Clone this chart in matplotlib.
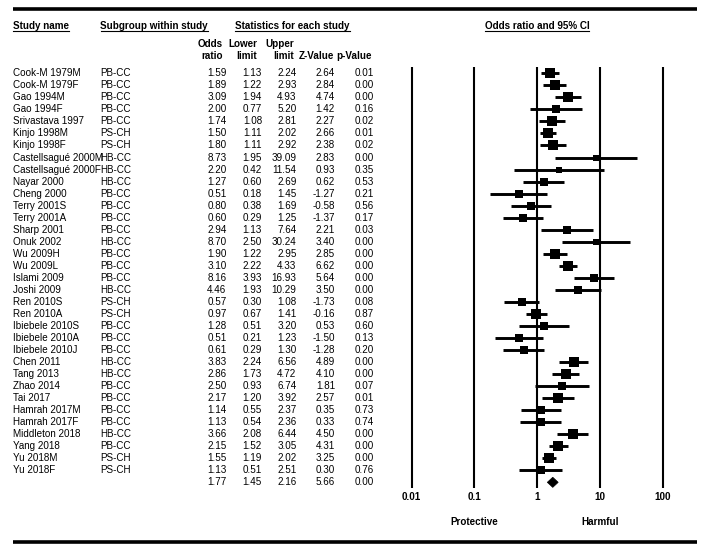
import numpy as np
import matplotlib
matplotlib.use("Agg")
import matplotlib.pyplot as plt
from matplotlib.patches import Polygon
from matplotlib.lines import Line2D

# ---------------- data ----------------
studies = ["Cook-M 1979M", "Cook-M 1979F", "Gao 1994M", "Gao 1994F", "Srivastava 1997",
           "Kinjo 1998M", "Kinjo 1998F", "Castellsagué 2000M", "Castellsagué 2000F",
           "Nayar 2000", "Cheng 2000", "Terry 2001S", "Terry 2001A", "Sharp 2001",
           "Onuk 2002", "Wu 2009H", "Wu 2009L", "Islami 2009", "Joshi 2009",
           "Ren 2010S", "Ren 2010A", "Ibiebele 2010S", "Ibiebele 2010A", "Ibiebele 2010J",
           "Chen 2011", "Tang 2013", "Zhao 2014", "Tai 2017", "Hamrah 2017M",
           "Hamrah 2017F", "Middleton 2018", "Yang 2018", "Yu 2018M", "Yu 2018F"]
subgroups = ["PB-CC", "PB-CC", "PB-CC", "PB-CC", "PB-CC", "PS-CH", "PS-CH", "HB-CC", "HB-CC",
             "HB-CC", "PB-CC", "PB-CC", "PB-CC", "PB-CC", "HB-CC", "PB-CC", "PB-CC", "PB-CC",
             "HB-CC", "PS-CH", "PS-CH", "PB-CC", "PB-CC", "PB-CC", "HB-CC", "HB-CC", "PB-CC",
             "PB-CC", "PB-CC", "PB-CC", "HB-CC", "PB-CC", "PS-CH", "PS-CH"]
odds = [1.59, 1.89, 3.09, 2.00, 1.74, 1.50, 1.80, 8.73, 2.20, 1.27, 0.51, 0.80, 0.60, 2.94,
        8.70, 1.90, 3.10, 8.16, 4.46, 0.57, 0.97, 1.28, 0.51, 0.61, 3.83, 2.86, 2.50, 2.17,
        1.14, 1.13, 3.66, 2.15, 1.55, 1.13]
lower = [1.13, 1.22, 1.94, 0.77, 1.08, 1.11, 1.11, 1.95, 0.42, 0.60, 0.18, 0.38, 0.29, 1.13,
         2.50, 1.22, 2.22, 3.93, 1.93, 0.30, 0.67, 0.51, 0.21, 0.29, 2.24, 1.73, 0.93, 1.20,
         0.55, 0.54, 2.08, 1.52, 1.19, 0.51]
upper = [2.24, 2.93, 4.93, 5.20, 2.81, 2.02, 2.92, 39.09, 11.54, 2.69, 1.45, 1.69, 1.25, 7.64,
         30.24, 2.95, 4.33, 16.93, 10.29, 1.08, 1.41, 3.20, 1.23, 1.30, 6.56, 4.72, 6.74, 3.92,
         2.37, 2.36, 6.44, 3.05, 2.02, 2.51]
zvals = [2.64, 2.84, 4.74, 1.42, 2.27, 2.66, 2.38, 2.83, 0.93, 0.62, -1.27, -0.58, -1.37, 2.21,
         3.40, 2.85, 6.62, 5.64, 3.50, -1.73, -0.16, 0.53, -1.50, -1.28, 4.89, 4.10, 1.81, 2.57,
         0.35, 0.33, 4.50, 4.31, 3.25, 0.30]
pvals = [0.01, 0.00, 0.00, 0.16, 0.02, 0.01, 0.02, 0.00, 0.35, 0.53, 0.21, 0.56, 0.17, 0.03,
         0.00, 0.00, 0.00, 0.00, 0.00, 0.08, 0.87, 0.60, 0.13, 0.20, 0.00, 0.00, 0.07, 0.01,
         0.73, 0.74, 0.00, 0.00, 0.00, 0.76]
summary_or, summary_lo, summary_hi, summary_z, summary_p = 1.77, 1.45, 2.16, 5.66, 0.00
ticks = [0.01, 0.1, 1, 10, 100]
tick_labels = ["0.01", "0.1", "1", "10", "100"]

# ---------------- layout ----------------
plt.rcParams['font.family'] = ['Liberation Sans', 'DejaVu Sans']
W, H = 708, 552
fig = plt.figure(figsize=(W / 100, H / 100), dpi=100)
fig.patch.set_facecolor('white')

ROW0, DY = 73.3, 12.03          # pixel y of first row and row spacing


def r(px):
    return (px - ROW0) / DY


ylim = (r(H), r(0))
FS = 7.15

ax = fig.add_axes([0, 0, 1, 1])
ax.set_xlim(0, W)
ax.set_ylim(*ylim)
ax.axis('off')

# forest axes with log x scale
fx0, fx1 = 395, 680
px_dec, x_001 = 62.75, 411.7
lo = -2 - (x_001 - fx0) / px_dec
hi = -2 + (fx1 - x_001) / px_dec
fax = fig.add_axes([fx0 / W, 0, (fx1 - fx0) / W, 1])
fax.set_xscale('log')
fax.set_xlim(10 ** lo, 10 ** hi)
fax.set_ylim(*ylim)
fax.axis('off')

# thick rules
ax.plot([12.5, 697], [r(8.5), r(8.5)], color='black', lw=2.6, solid_capstyle='butt')
ax.plot([12.5, 697], [r(542), r(542)], color='black', lw=2.6, solid_capstyle='butt')

# headers
underlined = []
t = ax.text(13, r(26), "Study name", fontsize=FS, fontweight='bold', ha='left', va='center')
underlined.append(t)
t = ax.text(100.5, r(26), "Subgroup within study", fontsize=FS, fontweight='bold', ha='left', va='center')
underlined.append(t)
t = ax.text(235, r(26), "Statistics for each study", fontsize=FS, fontweight='bold', ha='left', va='center')
underlined.append(t)
t = ax.text(537, r(26), "Odds ratio and 95% CI", fontsize=FS, fontweight='bold', ha='center', va='center')
underlined.append(t)

col_hdr_x = [223, 257, 294, 334, 372]
hdr1 = ["Odds", "Lower", "Upper", "", ""]
hdr2 = ["ratio", "limit", "limit", "Z-Value", "p-Value"]
for x, a, b in zip(col_hdr_x, hdr1, hdr2):
    if a:
        ax.text(x, r(44.3), a, fontsize=FS, fontweight='bold', ha='right', va='center')
    ax.text(x, r(56.3), b, fontsize=FS, fontweight='bold', ha='right', va='center')

col_val_x = [226.5, 262, 296.5, 335, 373.5]
rows = np.arange(len(studies))
for i in rows:
    ax.text(13, i, studies[i], fontsize=FS, ha='left', va='center')
    ax.text(100.5, i, subgroups[i], fontsize=FS, ha='left', va='center')
    vals = [odds[i], lower[i], upper[i], zvals[i], pvals[i]]
    for x, v in zip(col_val_x, vals):
        ax.text(x, i, f"{v:.2f}", fontsize=FS, ha='right', va='center')

srow = len(studies)
for x, v in zip(col_val_x, [summary_or, summary_lo, summary_hi, summary_z, summary_p]):
    ax.text(x, srow, f"{v:.2f}", fontsize=FS, ha='right', va='center')

# forest grid lines
for tk, lab in zip(ticks, tick_labels):
    fax.plot([tk, tk], [-0.5, srow + 0.5], color='black', lw=1.5, solid_capstyle='butt')
    fax.text(tk, r(496.7), lab, fontsize=FS, fontweight='bold', ha='center', va='center')

fax.text(0.1, r(521.7), "Protective", fontsize=FS, fontweight='bold', ha='center', va='center')
fax.text(10, r(521.7), "Harmful", fontsize=FS, fontweight='bold', ha='center', va='center')

# squares sized by random-effects style weight
odds_a, lower_a, upper_a = np.array(odds), np.array(lower), np.array(upper)
var = ((np.log(upper_a) - np.log(lower_a)) / 3.92) ** 2
w = 1.0 / (var + 0.2)
side_px = 10.5 * np.sqrt(w / 4.5)
for i in rows:
    fax.plot([lower[i], upper[i]], [i, i], color='black', lw=2.1, solid_capstyle='butt')
    fax.plot([odds[i]], [i], marker='s', color='black', markersize=side_px[i] * 0.72,
             markeredgewidth=0)

# summary diamond
h = 0.42
diamond = Polygon([(summary_lo, srow), (summary_or, srow - h), (summary_hi, srow),
                   (summary_or, srow + h)], closed=True, facecolor='black', edgecolor='black', lw=0.5)
fax.add_patch(diamond)

# underlines
fig.canvas.draw()
renderer = fig.canvas.get_renderer()
for t in underlined:
    bb = t.get_window_extent(renderer=renderer)
    y = (bb.y0 + 0.5) / H
    fig.add_artist(Line2D([bb.x0 / W, bb.x1 / W], [y, y], color='black', lw=0.8,
                          transform=fig.transFigure))

fig.savefig("out.png", dpi=100, facecolor='white')
